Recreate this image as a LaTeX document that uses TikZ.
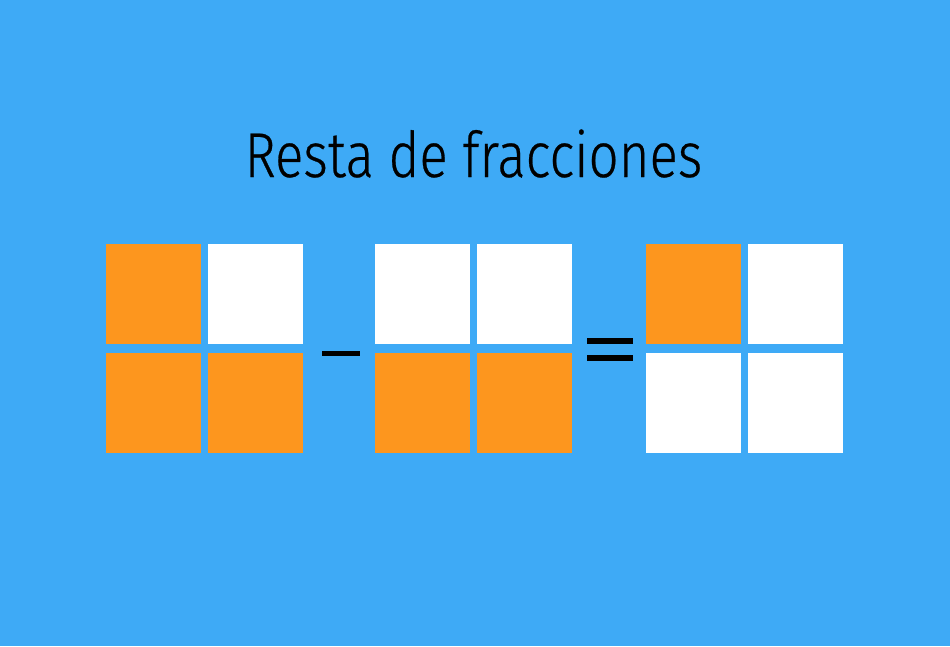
\documentclass[tikz,border=0pt]{standalone}
\usepackage{fontspec}
\usepackage{tikz}
\usetikzlibrary{positioning}
\newfontfamily\titlefont{Fira Sans Light}[FakeStretch=0.835,FakeBold=0.4]
\definecolor{skyblue}{RGB}{62,170,246}
\definecolor{fracorange}{RGB}{253,150,30}

\begin{document}
\begin{tikzpicture}[x=0.02cm,y=-0.02cm,node distance=0.16cm and 0.18cm,
  cell/.style={minimum width=1.9cm, minimum height=2cm, inner sep=0pt, outer sep=0pt},
  full/.style={cell, fill=fracorange},
  empty/.style={cell, fill=white},
  bar/.style={fill=black, inner sep=0pt, outer sep=0pt}]
% Background
\fill[skyblue] (0,0) rectangle (950,646);
\useasboundingbox (0,0) rectangle (950,646);

% Title
\node[anchor=base, font=\titlefont\fontsize{36}{40}\selectfont] (title) at (473.5,177) {Resta de fracciones};

% First fraction
\node[full, anchor=north west] (a1) at (106,244) {};
\node[empty, right=0.14cm of a1] (a2) {};
\node[full, below=0.18cm of a1] (a3) {};
\node[full, below=0.18cm of a2] (a4) {};

% Minus sign
\node[bar, minimum width=0.76cm, minimum height=0.1cm] (minus) at (341,353.5) {};

% Second fraction
\node[empty, anchor=north west] (b1) at (375,244) {};
\node[empty, right=0.14cm of b1] (b2) {};
\node[full, below=0.18cm of b1] (b3) {};
\node[full, below=0.18cm of b2] (b4) {};

% Equals sign
\node[bar, minimum width=0.92cm, minimum height=0.12cm] (eqtop) at (610,341) {};
\node[bar, minimum width=0.92cm, minimum height=0.12cm] (eqbot) at (610,358) {};

% Result
\node[full, anchor=north west] (c1) at (646,244) {};
\node[empty, right=0.14cm of c1] (c2) {};
\node[empty, below=0.18cm of c1] (c3) {};
\node[empty, below=0.18cm of c2] (c4) {};
\end{tikzpicture}
\end{document}
